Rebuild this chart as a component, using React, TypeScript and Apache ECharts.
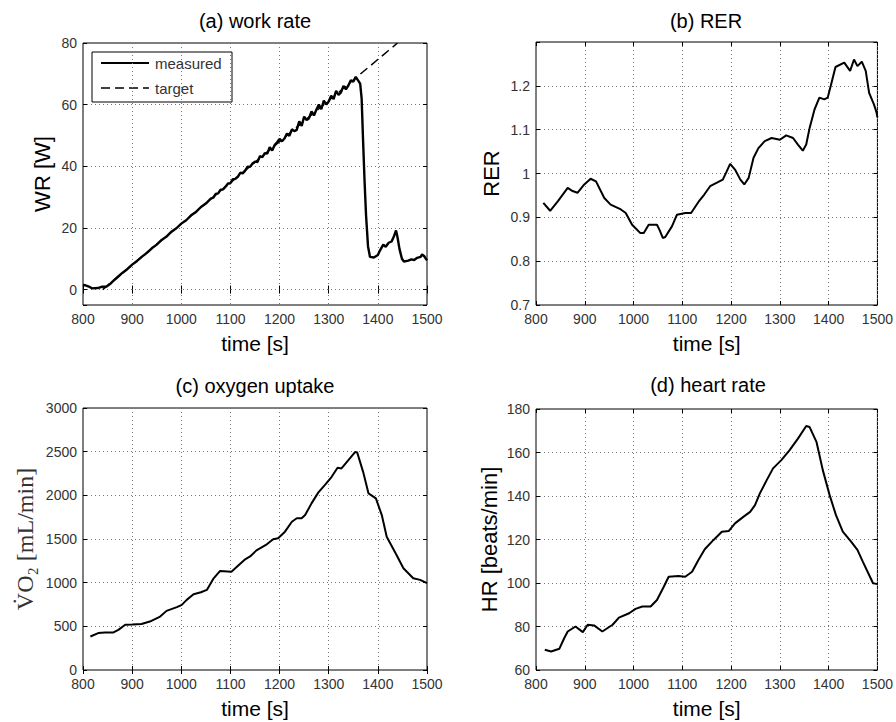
import React, { useEffect, useRef } from "react";
import * as echarts from "echarts";

// (a) work rate: measured and target ramp
const wrTime = [
  800, 805, 812, 818, 830, 838, 848, 855, 860, 870, 880, 890, 900, 910, 920, 930, 940, 950, 960, 970,
  980, 990, 1000, 1010, 1020, 1030, 1040, 1050, 1060, 1065, 1070, 1075, 1080, 1085, 1090, 1095, 1100,
  1105, 1110, 1115, 1120, 1125, 1130, 1135, 1140, 1145, 1150, 1155, 1160, 1165, 1170, 1175, 1180, 1185,
  1190, 1195, 1200, 1205, 1210, 1215, 1220, 1225, 1230, 1235, 1240, 1245, 1250, 1255, 1260, 1265, 1270,
  1275, 1280, 1285, 1290, 1295, 1300, 1305, 1310, 1315, 1320, 1325, 1330, 1335, 1340, 1345, 1350, 1355,
  1360, 1364, 1367, 1370, 1373, 1376, 1380, 1384, 1392, 1400, 1405, 1411, 1416, 1422, 1428, 1433, 1437,
  1440, 1444, 1449, 1453, 1462, 1468, 1474, 1480, 1487, 1490, 1494, 1500,
];
const wrMeasured = [
  1.5, 1.4, 1.0, 0.4, 0.5, 0.9, 1.0, 1.8, 2.6, 4.0, 5.4, 6.6, 8.1, 9.3, 10.7, 11.9, 13.4, 14.6, 16.1, 17.2,
  18.8, 19.9, 21.4, 22.5, 24.1, 25.2, 26.8, 27.9, 29.5, 29.8, 31.0, 31.2, 32.4, 32.5, 33.4, 34.4, 34.5,
  35.8, 35.9, 36.6, 37.9, 37.7, 38.6, 39.9, 39.8, 40.9, 41.5, 41.4, 43.3, 43.0, 44.3, 44.1, 46.2, 45.1,
  46.9, 47.8, 48.9, 48.1, 49.0, 50.6, 49.9, 52.0, 51.4, 51.8, 54.6, 53.1, 56.1, 55.0, 55.6, 57.8, 56.5,
  58.4, 60.0, 58.5, 61.3, 60.1, 61.0, 62.9, 61.8, 64.5, 63.2, 64.0, 66.1, 65.0, 66.2, 67.9, 67.4, 69.0,
  67.8, 66.8, 62, 48, 35, 24, 14, 10.6, 10.4, 11.2, 12.9, 14.6, 13.9, 15.2, 15.6, 17.4, 19.2,
  17.0, 13.2, 10.0, 9.1, 9.4, 9.8, 9.6, 10.3, 10.6, 11.4, 10.9, 9.5,
];
const wrTargetTime = [840, 1440];
const wrTarget = [0, 80];

// (b) respiratory exchange ratio
const rerTime = [
  815, 829, 845, 865, 875, 885, 899, 912, 923, 940, 953, 974, 984, 997, 1014, 1021, 1031, 1048, 1053,
  1060, 1065, 1079, 1089, 1106, 1118, 1133, 1145, 1157, 1171, 1183, 1191, 1198, 1208, 1219, 1227, 1236,
  1246, 1256, 1269, 1283, 1300, 1313, 1327, 1337, 1347, 1354, 1361, 1371, 1381, 1391, 1398, 1405, 1414,
  1432, 1444, 1452, 1459, 1468, 1476, 1483, 1493, 1498, 1500,
];
const rerValue = [
  0.933, 0.915, 0.937, 0.967, 0.96, 0.956, 0.975, 0.988, 0.982, 0.944, 0.929, 0.918, 0.91, 0.883, 0.864,
  0.864, 0.883, 0.883, 0.872, 0.853, 0.855, 0.88, 0.906, 0.91, 0.91, 0.935, 0.952, 0.971, 0.979, 0.986,
  1.005, 1.022, 1.009, 0.986, 0.975, 0.99, 1.036, 1.058, 1.074, 1.081, 1.077, 1.087, 1.081, 1.066, 1.052,
  1.066, 1.104, 1.146, 1.173, 1.169, 1.173, 1.203, 1.243, 1.253, 1.234, 1.26, 1.245, 1.255, 1.234, 1.184,
  1.157, 1.14, 1.128,
];

// (c) oxygen uptake
const vo2Time = [
  815, 831, 845, 862, 872, 886, 900, 919, 936, 957, 970, 991, 1001, 1011, 1025, 1040, 1052, 1065, 1079,
  1102, 1130, 1140, 1153, 1174, 1187, 1197, 1211, 1225, 1235, 1245, 1252, 1265, 1279, 1292, 1306, 1318,
  1326, 1343, 1354, 1358, 1370, 1381, 1396, 1408, 1418, 1438, 1452, 1472, 1486, 1500,
];
const vo2Value = [
  384, 423, 428, 430, 460, 518, 520, 526, 555, 612, 677, 720, 746, 803, 868, 890, 917, 1043, 1134,
  1126, 1268, 1300, 1370, 1439, 1497, 1508, 1584, 1698, 1737, 1737, 1774, 1908, 2034, 2117, 2212, 2315,
  2308, 2422, 2497, 2490, 2269, 2022, 1965, 1774, 1526, 1317, 1165, 1051, 1032, 994,
];

// (d) heart rate
const hrTime = [
  818, 831, 848, 858, 865, 881, 896, 906, 919, 936, 957, 970, 991, 1004, 1018, 1035, 1048, 1062, 1072,
  1092, 1106, 1120, 1133, 1146, 1164, 1181, 1195, 1208, 1225, 1239, 1249, 1259, 1273, 1286, 1303, 1320,
  1337, 1354, 1361, 1375, 1388, 1402, 1415, 1429, 1446, 1459, 1470, 1483, 1491, 1498, 1500,
];
const hrValue = [
  69.3, 68.5, 69.8, 74.7, 77.7, 80, 77.4, 80.8, 80.5, 77.7, 80.8, 84.1, 86.1, 88.1, 89.2, 89.2, 92.2,
  98.3, 102.9, 103.2, 102.9, 105.2, 110.6, 115.5, 119.8, 123.6, 123.9, 127.4, 130.4, 132.7, 135.8,
  141.2, 147.3, 152.7, 156.5, 161.1, 166.4, 172.2, 171.7, 164.9, 151.9, 140.4, 131.2, 123.6, 119, 115.2,
  109.8, 103.7, 99.9, 99.6, 99.5,
];

const panelTitles = ["(a) work rate", "(b) RER", "(c) oxygen uptake", "(d) heart rate"];
const yNames = ["WR [W]", "RER", "V\u0307O\u2082 [mL/min]", "HR [beats/min]"];
const xName = "time [s]";

const SANS = "'Liberation Sans', Arial, Helvetica, sans-serif";
const SERIF = "'Liberation Serif', 'DejaVu Serif', 'Times New Roman', serif";

const pairs = (t: number[], v: number[]) => t.map((x, i) => [x, v[i]]);

export default function App() {
  const ref = useRef<HTMLDivElement>(null);

  useEffect(() => {
    if (!ref.current) return;
    const chart = echarts.init(ref.current, null, { renderer: "svg" });

    const grids = [
      { left: 83, top: 43, width: 344, height: 262 },
      { left: 536, top: 42, width: 344, height: 263 },
      { left: 83, top: 408, width: 344, height: 262 },
      { left: 536, top: 409, width: 344, height: 261 },
    ];

    const yRanges = [
      { min: -5, max: 80, minInterval: 20, maxInterval: 20 },
      { min: 0.7, max: 1.3, interval: 0.1 },
      { min: 0, max: 3000, interval: 500 },
      { min: 60, max: 180, interval: 20 },
    ];
    const hiddenY = [[-5], [1.3], [], []];
    const yNameGap = [30, 34, 46, 36];
    const titleCenters = [
      [255, 11],
      [706, 11],
      [255, 376],
      [708, 375],
    ];

    const splitLine = {
      show: true,
      lineStyle: { color: "#777", width: 1, type: [1, 3] as number[] },
    };
    const tick = { show: true, inside: true, length: 4, lineStyle: { color: "#000", width: 1 } };
    const labelStyle = { color: "#333", fontSize: 14, fontFamily: SANS };

    const xAxes: any[] = [];
    const yAxes: any[] = [];
    grids.forEach((_, i) => {
      xAxes.push({
        gridIndex: i,
        type: "value",
        min: 800,
        max: 1500,
        interval: 100,
        axisLine: { show: false },
        axisTick: tick,
        axisLabel: { ...labelStyle, margin: 7, formatter: (v: number) => String(v) },
        splitLine,
        name: xName,
        nameLocation: "middle",
        nameGap: 28,
        nameTextStyle: { fontSize: 21, color: "#000", fontFamily: SANS },
      });
      const hide = hiddenY[i];
      yAxes.push({
        gridIndex: i,
        type: "value",
        ...yRanges[i],
        axisLine: { show: false },
        axisTick: tick,
        axisLabel: {
          ...labelStyle,
          margin: 6,
          formatter: (v: number) => (hide.some((h) => Math.abs(h - v) < 1e-9) ? "" : String(+v.toFixed(2))),
        },
        splitLine,
        name: yNames[i],
        nameLocation: "middle",
        nameRotate: 90,
        nameGap: yNameGap[i],
        nameTextStyle:
          i === 2
            ? { fontSize: 24, color: "#333", fontFamily: SERIF }
            : { fontSize: 22, color: "#000", fontFamily: SANS },
      });
    });
    // mirrored ticks on the top and right edges of each box
    grids.forEach((_, i) => {
      xAxes.push({
        gridIndex: i,
        type: "value",
        position: "top",
        min: 800,
        max: 1500,
        interval: 100,
        axisLine: { show: false },
        axisTick: tick,
        axisLabel: { show: false },
        splitLine: { show: false },
      });
      yAxes.push({
        gridIndex: i,
        type: "value",
        position: "right",
        ...yRanges[i],
        axisLine: { show: false },
        axisTick: tick,
        axisLabel: { show: false },
        splitLine: { show: false },
      });
    });

    const lineSeries = (i: number, data: number[][], extra: any = {}) => ({
      type: "line",
      xAxisIndex: i,
      yAxisIndex: i,
      data,
      symbol: "none",
      silent: true,
      clip: true,
      lineStyle: { color: "#000", width: 2 },
      ...extra,
    });

    chart.setOption({
      animation: false,
      backgroundColor: "#fff",
      textStyle: { fontFamily: SANS },
      title: panelTitles.map((t, i) => ({
        text: t,
        left: titleCenters[i][0],
        top: titleCenters[i][1],
        textAlign: "center",
        padding: 0,
        textStyle: { fontSize: 20, fontWeight: "normal", color: "#000", fontFamily: SANS },
      })),
      grid: grids.map((g) => ({
        ...g,
        show: true,
        borderColor: "#000",
        borderWidth: 1,
        backgroundColor: "#fff",
        containLabel: false,
      })),
      xAxis: xAxes,
      yAxis: yAxes,
      series: [
        lineSeries(0, pairs(wrTargetTime, wrTarget), {
          name: "target",
          lineStyle: { color: "#000", width: 1.5, type: [9, 5] },
        }),
        lineSeries(0, pairs(wrTime, wrMeasured), {
          name: "measured",
          lineStyle: { color: "#000", width: 2.4 },
        }),
        lineSeries(1, pairs(rerTime, rerValue)),
        lineSeries(2, pairs(vo2Time, vo2Value)),
        lineSeries(3, pairs(hrTime, hrValue)),
      ],
      graphic: [
        {
          type: "group",
          z: 100,
          children: [
            {
              type: "rect",
              shape: { x: 92, y: 52, width: 140, height: 50 },
              style: { fill: "#fff", stroke: "#000", lineWidth: 1 },
            },
            {
              type: "line",
              shape: { x1: 101, y1: 63, x2: 149, y2: 63 },
              style: { stroke: "#000", lineWidth: 2 },
            },
            {
              type: "line",
              shape: { x1: 101, y1: 88, x2: 149, y2: 88 },
              style: { stroke: "#000", lineWidth: 1.5, lineDash: [9, 5] },
            },
            {
              type: "text",
              x: 155,
              y: 63,
              style: { text: "measured", fontSize: 15, fill: "#333", fontFamily: SANS, verticalAlign: "middle" },
            },
            {
              type: "text",
              x: 155,
              y: 88,
              style: { text: "target", fontSize: 15, fill: "#333", fontFamily: SANS, verticalAlign: "middle" },
            },
          ],
        },
      ],
    });

    return () => chart.dispose();
  }, []);

  return (
    <div
      ref={ref}
      style={{ position: "fixed", left: 0, top: 0, width: 896, height: 722, background: "#fff" }}
    />
  );
}
